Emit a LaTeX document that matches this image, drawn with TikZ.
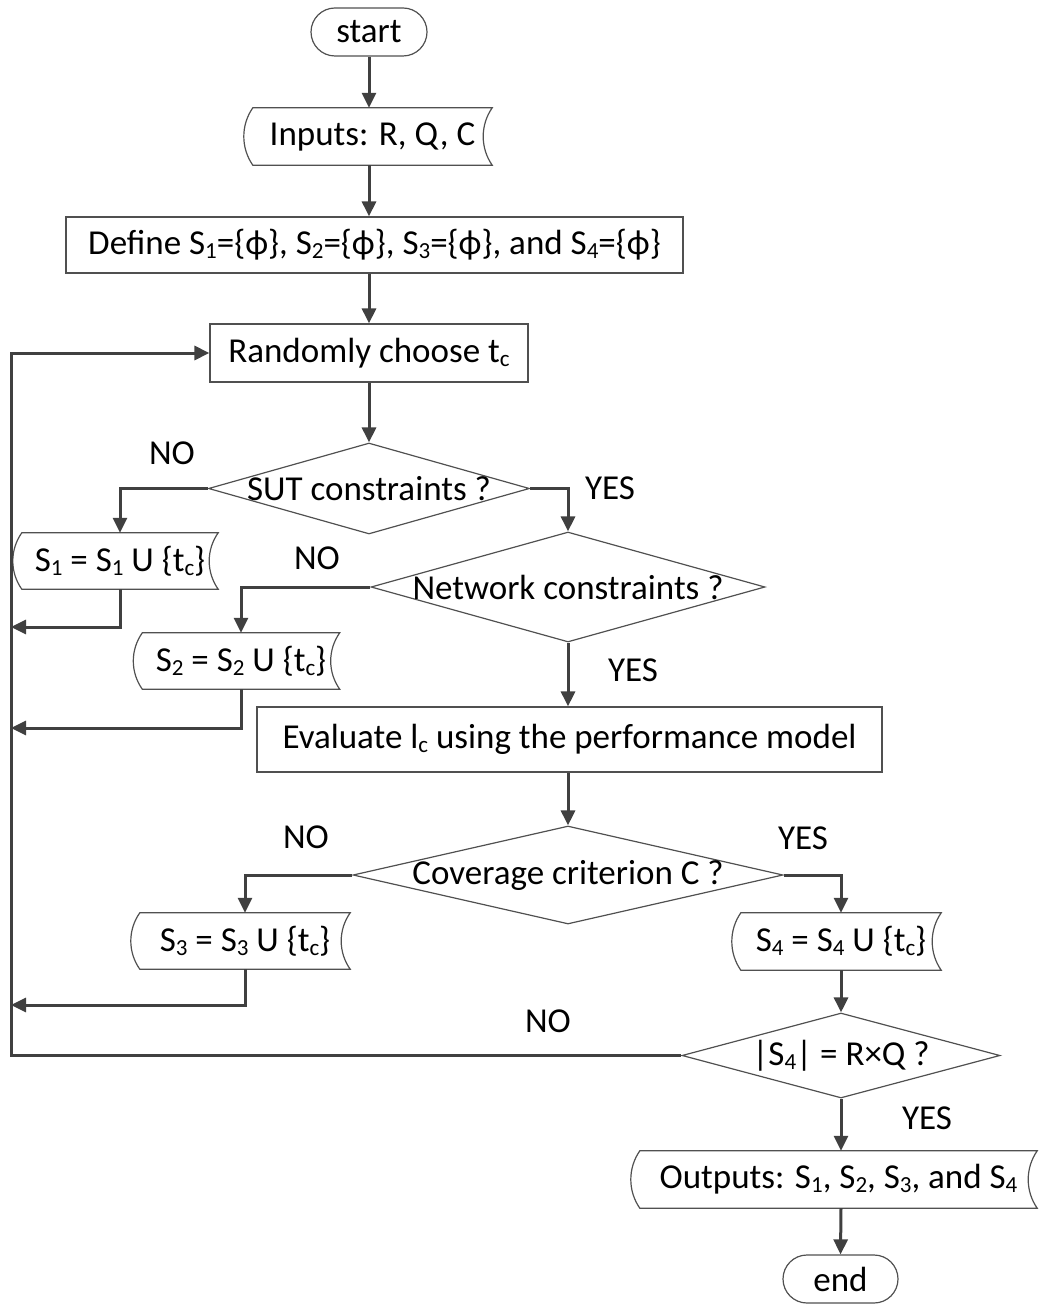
\documentclass[tikz,border=0pt]{standalone}
\usepackage{fontspec}
\setmainfont{Carlito}
\usetikzlibrary{arrows.meta,shapes.geometric,shapes.misc,calc}
\newcommand\subsc[1]{\raisebox{-4pt}{\fontsize{23}{23}\selectfont #1}}
\definecolor{edge}{HTML}{404040}
\definecolor{frame}{HTML}{505050}

\begin{document}
\begin{tikzpicture}[x=1pt,y=-1pt,
  every node/.style={font=\fontsize{35}{42}\selectfont, inner sep=0pt},
  box/.style={draw=frame, line width=1.2pt, rectangle},
  term/.style={draw=frame, line width=1.2pt, rounded rectangle},
  data/.style={rectangle},
  decision/.style={draw=frame, line width=1.2pt, diamond},
  flow/.style={draw=edge, line width=3pt, -{Triangle[length=15pt,width=14pt]}},
  ioframe/.style={draw=frame, line width=1.2pt}]
\useasboundingbox (0,0) rectangle (1039,1305);

% process steps
\node[term, minimum width=116, minimum height=48] (start) at (369,32) {start};
\node[data, minimum width=239, minimum height=57] (inp) at (372.5,136.5) {Inputs: R, Q, C};
\node[box, minimum width=617, minimum height=56] (def) at (374.5,245)
  {Define S\subsc{1}=\{ϕ\}, S\subsc{2}=\{ϕ\}, S\subsc{3}=\{ϕ\}, and S\subsc{4}=\{ϕ\}};
\node[box, minimum width=318, minimum height=58] (rand) at (369,353) {Randomly choose t\subsc{c}};
\node[decision, minimum width=321, minimum height=91] (sut) at (369,488.5) {\makebox[0pt]{SUT constraints ?}};
\node[data, minimum width=196, minimum height=56] (s1) at (120,561) {S\subsc{1} = S\subsc{1} U \{t\subsc{c}\}};
\node[decision, minimum width=394, minimum height=110] (net) at (568,587) {\makebox[0pt]{Network constraints ?}};
\node[data, minimum width=197, minimum height=56] (s2) at (241,661) {S\subsc{2} = S\subsc{2} U \{t\subsc{c}\}};
\node[box, minimum width=625, minimum height=65] (eval) at (569.5,739.5) {Evaluate l\subsc{c} using the performance model};
\node[decision, minimum width=430, minimum height=98] (cov) at (568,875) {\makebox[0pt]{Coverage criterion C ?}};
\node[data, minimum width=210, minimum height=56] (s3) at (245,941) {S\subsc{3} = S\subsc{3} U \{t\subsc{c}\}};
\node[data, minimum width=200, minimum height=57] (s4) at (841,941.5) {S\subsc{4} = S\subsc{4} U \{t\subsc{c}\}};
\node[decision, minimum width=318, minimum height=85] (chk) at (841,1055.5) {\makebox[0pt]{|S\subsc{4}| = R×Q ?}};
\node[data, minimum width=397, minimum height=57] (out) at (838.5,1179.5)
  {Outputs: S\subsc{1}, S\subsc{2}, S\subsc{3}, and S\subsc{4}};
\node[term, minimum width=115, minimum height=48] (end) at (840.5,1279) {end};

% input/output outlines: convex left side, concave right side
\foreach \n in {inp,s1,s2,s3,s4,out}
  \draw[ioframe] (\n.north west)
    .. controls ($(\n.north west)!0.3!(\n.south west)+(-12,0)$) and ($(\n.north west)!0.7!(\n.south west)+(-12,0)$) .. (\n.south west)
    -- (\n.south east)
    .. controls ($(\n.north east)!0.7!(\n.south east)+(-12,0)$) and ($(\n.north east)!0.3!(\n.south east)+(-12,0)$) .. (\n.north east)
    -- cycle;

% branch labels
\node (no1) at (172,453) {NO};
\node (yes1) at (610,488) {YES};
\node (no2) at (317,558) {NO};
\node (yes2) at (633,670) {YES};
\node (no3) at (306,837) {NO};
\node (yes3) at (803,838) {YES};
\node (no4) at (548,1021) {NO};
\node (yes4) at (927,1118) {YES};

% loop-back rail
\coordinate (rail) at (11,0);
\coordinate (r1) at (11,627);
\coordinate (r2) at (11,728);
\coordinate (r3) at (11,1005);

% connectors
\draw[flow] (start.south) -- (start.south |- inp.north);
\draw[flow] (start |- inp.south) -- (start |- def.north);
\draw[flow] (start |- def.south) -- (rand.north);
\draw[flow] (rand.south) -- (sut.north);
\draw[flow] (sut.west) -| (s1.north);
\draw[flow] (sut.east) -| (net.north);
\draw[flow] (net.west) -| (s2.north);
\draw[flow] (net.south) -- (net.south |- eval.north);
\draw[flow] (net.south |- eval.south) -- (cov.north);
\draw[flow] (cov.west) -| (s3.north);
\draw[flow] (cov.east) -| (s4.north);
\draw[flow] (s4.south) -- (chk.north);
\draw[flow] (chk.south) -- (chk.south |- out.north);
\draw[flow] (chk.south |- out.south) -- (end.north);
\draw[flow] (s1.south) |- (r1);
\draw[flow] (s2.south) |- (r2);
\draw[flow] (s3.south) |- (r3);
\draw[flow] (chk.west) -- (rail |- chk.west) -- (rail |- rand.west) -- (rand.west);
\end{tikzpicture}
\end{document}
